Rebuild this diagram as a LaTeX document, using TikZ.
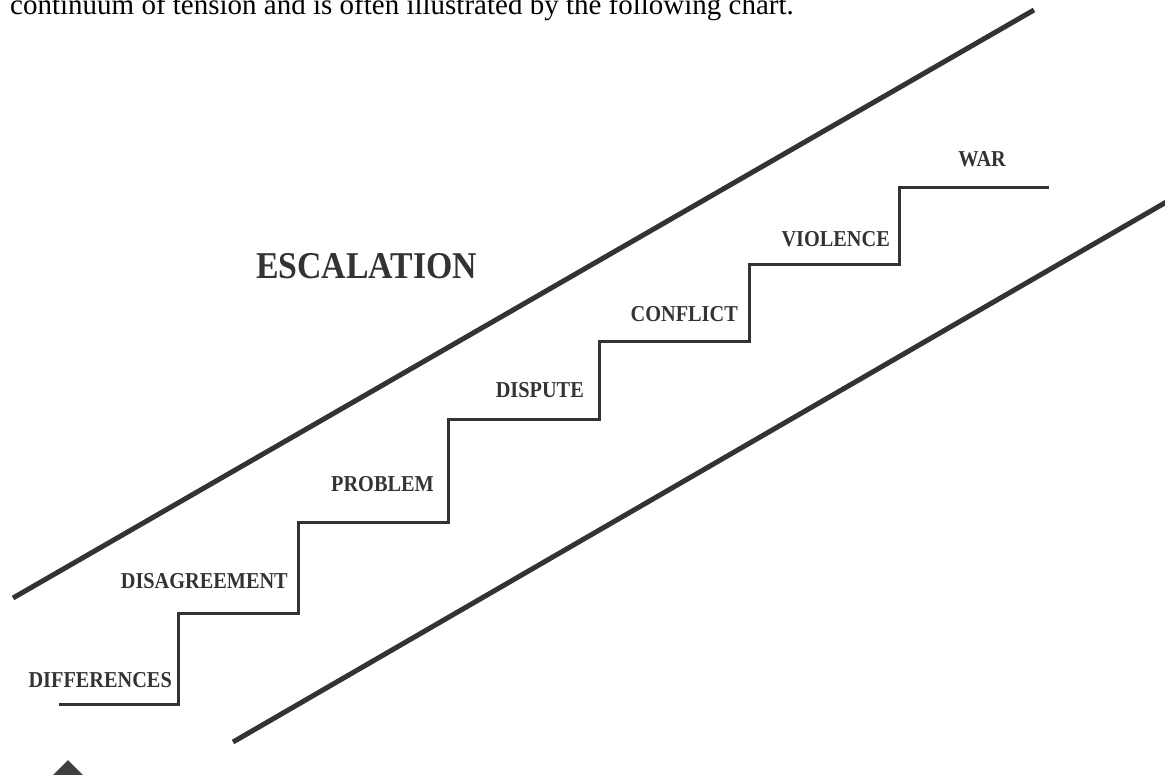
\documentclass[tikz,border=0pt]{standalone}
\usepackage{fontspec}
\setmainfont{Liberation Serif}
\newcommand{\tallcaps}[1]{\scalebox{1}[1.12]{#1}}
\begin{document}
\begin{tikzpicture}[x=1pt,y=-1pt,
  ink/.style={draw=black!80, line cap=butt, line join=miter},
  band/.style={ink, line width=5pt},
  stair/.style={ink, line width=3pt},
  steplabel/.style={anchor=base east, inner sep=0pt, text=black!80,
    font=\bfseries\fontsize{20.3}{20}\selectfont},
  title/.style={anchor=base west, inner sep=0pt, text=black!80,
    font=\bfseries\fontsize{33.8}{34}\selectfont}]
\useasboundingbox (0,0) rectangle (1165,774);
\clip (0,0) rectangle (1165,774);

% running text at the top of the page
\node[anchor=base west, inner sep=0pt, font=\fontsize{29}{29}\selectfont]
  (caption) at (10,14) {continuum of tension and is often illustrated by the following chart.};

% the two boundary lines of the escalation band
\coordinate (upA) at (13,598);
\coordinate (upB) at (1034,10);
\coordinate (loA) at (233,742);
\coordinate (loB) at (1175,197);
\draw[band] (upA) -- (upB);
\draw[band] (loA) -- (loB);

% the staircase
\draw[stair] (59,704) -- (178,704) -- (178,613) -- (298,613) -- (298,522)
  -- (448,522) -- (448,419) -- (599,419) -- (599,341) -- (749,341)
  -- (749,264) -- (899,264) -- (899,187) -- (1049,187);

% step labels
\node[steplabel] (differences)  at (172,687) {\tallcaps{DIFFERENCES}};
\node[steplabel] (disagreement) at (288,588) {\tallcaps{DISAGREEMENT}};
\node[steplabel] (problem)      at (434,491) {\tallcaps{PROBLEM}};
\node[steplabel] (dispute)      at (584,397) {\tallcaps{DISPUTE}};
\node[steplabel] (conflict)     at (738,321) {\tallcaps{CONFLICT}};
\node[steplabel] (violence)     at (890,246) {\tallcaps{VIOLENCE}};
\node[steplabel] (war)          at (1006,166) {\tallcaps{WAR}};

\node[title] (escalation) at (256,278) {\tallcaps{ESCALATION}};

% marker at the lower left
\fill[black!75] (68,760) -- (84,776) -- (52,776) -- cycle;
\end{tikzpicture}
\end{document}
